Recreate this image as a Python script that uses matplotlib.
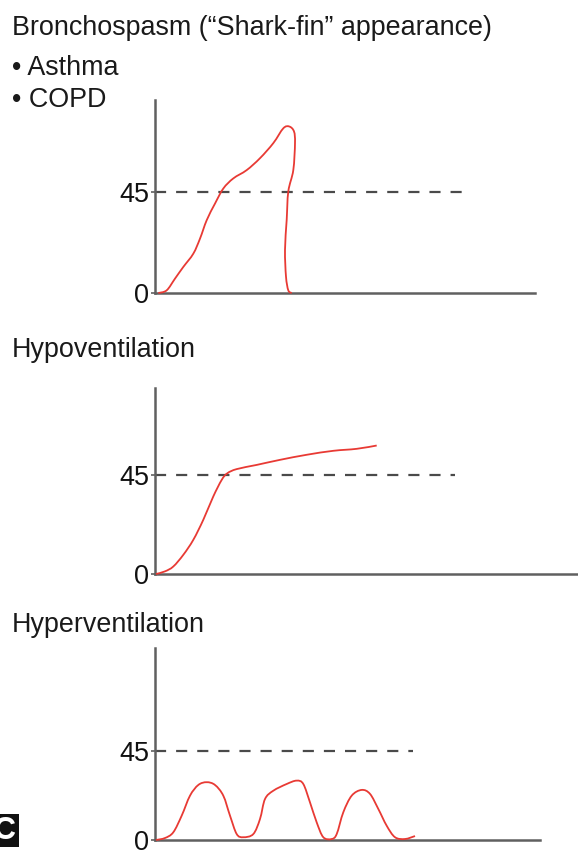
import matplotlib
matplotlib.use("Agg")
import matplotlib.pyplot as plt
from matplotlib.patches import Rectangle, PathPatch
from matplotlib.path import Path

plt.rcParams['font.family'] = ['Liberation Sans', 'DejaVu Sans']

# ---------------- data ----------------
titles = ["Bronchospasm (\u201cShark-fin\u201d appearance)", "Hypoventilation", "Hyperventilation"]
bullets = ["\u2022 Asthma", "\u2022 COPD"]
ytick_values = [0, 45]
ytick_labels = ["0", "45"]
threshold = 45

# Bronchospasm (shark fin) capnogram: time (arb.), CO2 (mmHg)
shark_t = [3.3, 11.7, 20, 28.3, 38.3, 45, 51.7, 60, 68.3, 78.3, 91.7, 105, 118.3,
           128.3, 134.3, 139, 140, 138.3, 133.3, 131.7, 130, 131, 133.3, 136.7]
shark_co2 = [0, 1.2, 6.4, 11.6, 17.5, 24.2, 32.4, 39.8, 46.5, 51, 54.7, 60, 66.7,
             73.3, 74.1, 71.9, 66.7, 54.7, 45.2, 32.6, 19.2, 7.3, 1.2, 0]

# Hypoventilation capnogram
hypo_t = [1, 10, 18.3, 28.3, 38.3, 48.3, 58.3, 66.7, 72.3, 81.7, 101.7, 125,
          151.7, 178.3, 201.7, 221.7]
hypo_co2 = [0, 1.2, 3.4, 8.7, 15.5, 24.6, 35.2, 42.7, 45.7, 47.6, 49.5, 51.8,
            54.1, 55.9, 56.8, 58.3]

# Hyperventilation capnogram
hyper_t = [1, 10, 18.3, 26.7, 35, 43.3, 51.7, 60, 68.3, 75, 81.7, 88.3, 98.3, 105,
           110, 118.3, 131.7, 141.7, 148.3, 155, 161.7, 168.3, 176.7, 181.7, 188.3,
           196.7, 206.7, 215, 223.3, 231.7, 240, 250, 260]
hyper_co2 = [0, 1, 3.9, 12.3, 22.4, 27.8, 29.2, 27.8, 22.4, 12.3, 3, 1.4, 3, 10.6,
             20.7, 24.9, 28.3, 30, 28.3, 19, 8.9, 1.4, 0.5, 3, 14, 22.4, 25.3, 23.3,
             15.7, 7.2, 1.4, 0.5, 2]

# ---------------- figure ----------------
W, H = 578, 850
fig = plt.figure(figsize=(W / 100, H / 100), dpi=100)

red = "#e83a34"
axis_col = "#606060"
dash_col = "#4a4a4a"
txt_col = "#1a1a1a"


def px_axes(left, bottom, right, top):
    return fig.add_axes([left / W, 1 - bottom / H, (right - left) / W, (bottom - top) / H])


def smooth_path(xs, ys):
    """Draw a smooth curve through the read points (Catmull-Rom as Bezier segments)."""
    pts = list(zip(xs, ys))
    verts = [pts[0]]
    codes = [Path.MOVETO]
    n = len(pts)
    for i in range(n - 1):
        p0 = pts[i - 1] if i > 0 else pts[i]
        p1 = pts[i]
        p2 = pts[i + 1]
        p3 = pts[i + 2] if i + 2 < n else pts[i + 1]
        c1 = (p1[0] + (p2[0] - p0[0]) / 6, p1[1] + (p2[1] - p0[1]) / 6)
        c2 = (p2[0] - (p3[0] - p1[0]) / 6, p2[1] - (p3[1] - p1[1]) / 6)
        verts += [c1, c2, p2]
        codes += [Path.CURVE4] * 3
    return Path(verts, codes)


panels = [
    # (left, bottom, right, top) px, ytop, xmax, dash end, series
    ((155, 293, 535, 100), 85.9, 380, 316, shark_t, shark_co2),
    ((155, 574, 578, 388), 84.4, 423, 300, hypo_t, hypo_co2),
    ((155, 840, 540, 648), 97.0, 385, 258, hyper_t, hyper_co2),
]

for (box, ytop, xmax, dash_end, t, c) in panels:
    ax = px_axes(*box)
    ax.set_xlim(0, xmax)
    ax.set_ylim(0, ytop)
    ax.plot([0, dash_end], [threshold, threshold], color=dash_col, lw=1.6,
            dashes=(5, 4.5), zorder=2)
    ax.add_patch(PathPatch(smooth_path(t, c), facecolor='none', edgecolor=red,
                           lw=1.3, zorder=3, clip_on=False))
    for s in ["top", "right"]:
        ax.spines[s].set_visible(False)
    for s in ["left", "bottom"]:
        ax.spines[s].set_color(axis_col)
        ax.spines[s].set_linewidth(1.8)
    ax.set_xticks([])
    ax.set_yticks(ytick_values)
    ax.set_yticklabels(ytick_labels)
    ax.tick_params(axis='y', length=3, width=1.2, color=axis_col, pad=1,
                   labelsize=19.5, labelcolor="#111111")
    ax.patch.set_alpha(0)

# titles
fs = 19.4
fig.text(12 / W, 1 - 28 / H, titles[0], fontsize=fs, va='center', ha='left', color=txt_col)
fig.text(12 / W, 1 - 68 / H, bullets[0], fontsize=fs, va='center', ha='left', color=txt_col)
fig.text(12 / W, 1 - 100 / H, bullets[1], fontsize=fs, va='center', ha='left', color=txt_col)
fig.text(12 / W, 1 - 350 / H, titles[1], fontsize=fs, va='center', ha='left', color=txt_col)
fig.text(12 / W, 1 - 625 / H, titles[2], fontsize=fs, va='center', ha='left', color=txt_col)

# panel label "C" (cut at left edge)
fig.patches.append(Rectangle((0, 1 - 847 / H), 19 / W, 33 / H, transform=fig.transFigure,
                             facecolor="#111111", edgecolor="none"))
fig.text(-6 / W, 1 - 831 / H, "C", fontsize=22, fontweight='bold', color="white",
         va='center', ha='left')

fig.savefig("out.png", dpi=100)
